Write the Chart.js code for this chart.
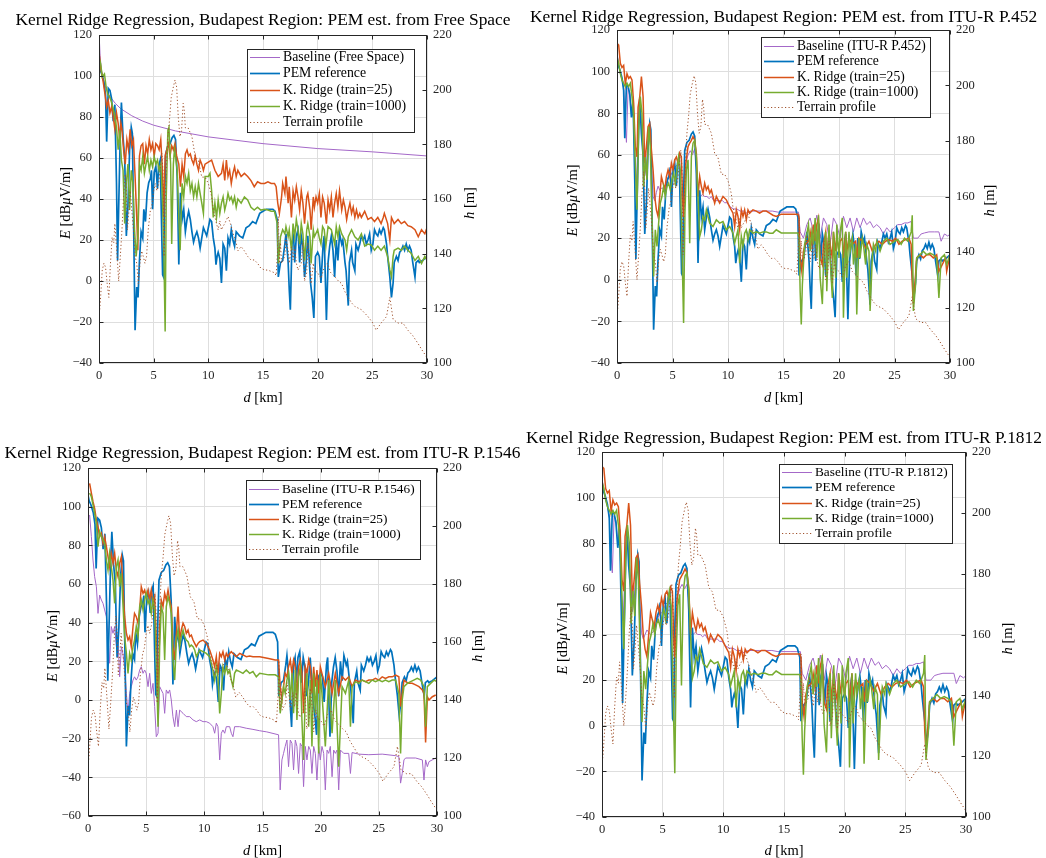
<!DOCTYPE html>
<html><head><meta charset="utf-8">
<script src="https://cdn.jsdelivr.net/npm/chart.js"></script>
<style>
html,body{margin:0;padding:0;background:#fff;width:1046px;height:858px;overflow:hidden;position:relative}
canvas{position:absolute}
</style></head><body>
<canvas id="c1"></canvas><canvas id="c2"></canvas><canvas id="c3"></canvas><canvas id="c4"></canvas>
<script>
// ---------- tick labels ----------
const dTicks = [0,5,10,15,20,25,30];
const eTicksA = [-40,-20,0,20,40,60,80,100,120];
const eTicksB = [-60,-40,-20,0,20,40,60,80,100,120];
const hTicks = [100,120,140,160,180,200,220];

// ---------- shared series: PEM reference [dBuV/m] ----------
const pemD = [0,0.1,0.25,0.45,0.6,0.7,0.85,1.0,1.15,1.3, 1.45,1.6,1.7,1.8,1.95,2.05,2.2,2.35,2.5,2.65,
 2.8,2.95,3.05,3.15,3.3,3.45,3.57,3.7,3.85,4.0, 4.1,4.25,4.4,4.55,4.7,4.8,4.9,5.05,5.2,5.35,
 5.45,5.6,5.75,5.82,5.9,6.0,6.1,6.3,6.5,6.7, 6.85,7.0,7.15,7.3,7.45,7.6,7.75,7.9,8.05,8.2,
 8.35,8.5,8.65,8.8,8.95,9.1,9.25,9.4,9.55,9.7, 9.85,10.0,10.15,10.3,10.45,10.6,10.7,10.8,10.9,11.05,
 11.2,11.35,11.5,11.65,11.8,11.95,12.1,12.25,12.4,12.55, 12.85,13.15,13.45,13.75,14.05,14.35,14.7,15.0,15.3,15.6,
 15.9,16.1,16.3,16.4,16.6,16.8,17.0,17.1,17.3,17.4, 17.5,17.65,17.8,17.9,18.05,18.2,18.35,18.5,18.65,18.8,
 18.95,19.1,19.35,19.5,19.65,19.8,20.0,20.15,20.3,20.5, 20.6,20.8,20.95,21.1,21.25,21.4,21.55,21.7,21.85,22.0,
 22.2,22.3,22.5,22.6,22.8,22.9,23.1,23.2,23.4,23.5, 23.7,23.85,24.0,24.15,24.3,24.45,24.6,24.75,24.9,25.05,
 25.2,25.35,25.5,25.65,25.8,26.0,26.1,26.3,26.4,26.6, 26.75,26.9,27.0,27.2,27.35,27.5,27.65,27.8,27.95,28.1,
 28.25,28.4,28.55,28.7,28.9,29.0,29.2,29.3,29.6,30];
const pemE = [106,103,101,97,91,68,94,93,89,78, 86,48,10,36,72,87,70,60,22,37,
 64,75,72,34,-24,-3,-8,10,24,21, 35,29,43,48,50,54,35,53,56,45,
 56,59,20,3,2,40,62,66,67,70, 71,69,51,8,43,30,35,24,30,34,
 30,24,19,22,24,21,16,21,26,24, 22,26,30,29,21,16,8,12,14,11,
 -1,18,16,5,21,18,25,20,17,24, 22,21,26,27,29,28,33,34,35,35,
 35,34,30,2,9,10,18,23,9,-4, -14,18,22,9,22,25,9,22,17,2,
 9,22,-1,-8,-18,12,14,12,-1,18, 22,-19,9,17,22,15,2,20,10,23,
 18,20,9,5,-12,9,15,9,5,18, 15,18,22,20,22,18,20,23,15,18,
 25,23,22,25,23,26,25,18,12,2, -8,-1,9,12,10,14,15,17,15,18,
 15,17,15,9,2,9,10,9,10,12];

// ---------- shared series: terrain profile h [m] ----------
const terrD = [0,0.1,0.3,0.45,0.6,0.75,0.9,1.05,1.2,1.35, 1.45,1.6,1.8,1.95,2.1,2.25,2.4,2.5,2.6,2.7,
 2.85,3.0,3.15,3.3,3.45,3.6,3.75,3.9,4.05,4.2, 4.35,4.5,4.7,4.85,5.0,5.15,5.3,5.45,5.6,5.75,
 5.85,5.95,6.05,6.15,6.3,6.45,6.6,6.8,6.95,7.1, 7.25,7.4,7.55,7.7,7.8,7.9,8.15,8.5,8.8,9.1,
 9.4,9.7,10.0,10.3,10.45,10.6,10.75,10.9,11.05,11.2, 11.35,11.5,11.8,12.1,12.25,12.4,12.55,12.7,13.0,13.3,
 13.6,13.9,14.2,14.5,14.8,15.15,15.45,15.75,16.05,16.2, 16.35,16.4,16.5,16.6,16.7,17.0,17.1,17.3,17.4,17.6,
 17.75,17.9,18.05,18.2,18.5,18.65,18.8,19.0,19.1,19.3, 19.4,19.6,19.7,20.0,20.3,20.6,20.9,21.2,21.55,21.9,
 22.2,22.5,22.8,23.1,23.4,24.0,24.6,25.05,25.35,25.8, 26.3,26.6,26.9,27.35,27.8,28.25,28.7,29.2,29.5,30];
const terrH = [117,121,134,136.5,135,129,124,136.5,146,144, 151,142.6,130,139,148.7,161,169,163,148.7,153.6,
 163,156,148.7,139,136.5,129,136.5,141,139,136.5, 139,148.7,156,158,163,165.7,163,165.7,170.6,176.7,
 170.6,139,158,170.6,182.8,189,197,201,203.5,201, 190,182.8,185,195,192.5,186,186,182.8,175.5,174,
 168,168,165.7,161,156,153.6,151,148.7,152,148.7, 150,151,153.6,150,147.5,146,144,141,142.6,141,
 139,137.7,137.7,136.5,134.7,134,134,133.5,133,132, 142.6,153.6,136.5,144,136.5,139,146,141,136.5,142.6,
 137.7,142.6,136.5,134,136.5,144,130,133,144,136.5, 129,136.5,134,133,131,135,136.5,133,131.6,130,
 129,126,124,122,120.7,119.5,117,114.6,112,114.6, 117,124,116,114.6,114.6,112,110,107,105,102];

// ---------- panel 1: Free Space ----------
const baseFsD = [0.05,0.1,0.2,0.3,0.5,0.75,1,1.5,2,3,4,5,7,10,15,20,25,30];
const baseFsE = [116,110,104,100.5,96,92.6,90,86.6,84,80.6,78,76,73.2,70.3,67,64.6,63,61];
const kr25FsD = [0,0.15,0.36,0.55,0.7,0.85,1.0,1.15,1.3,1.45, 1.6,1.75,1.9,2.0,2.1,2.25,2.4,2.55,2.7,2.85,
 3.0,3.15,3.3,3.45,3.55,3.7,3.85,4.0,4.15,4.3, 4.45,4.6,4.75,4.9,5.05,5.2,5.35,5.5,5.65,5.8,
 5.9,6.05,6.2,6.35,6.5,6.65,6.8,6.95,7.1,7.3, 7.45,7.6,7.75,7.9,8.05,8.2,8.35,8.5,8.65,8.8,
 8.95,9.1,9.25,9.4,9.55,9.7,10.0,10.3,10.6,10.9, 11.2,11.35,11.5,11.65,11.8,11.95,12.1,12.25,12.4,12.55,
 12.7,13.0,13.3,13.6,13.9,14.2,14.5,14.8,15.15,15.45, 15.75,16.05,16.2,16.35,16.5,16.7,16.8,17.0,17.1,17.3,
 17.4,17.6,17.75,17.9,18.05,18.2,18.35,18.5,18.65,18.8, 19.0,19.1,19.3,19.4,19.6,19.7,19.85,20.0,20.15,20.3,
 20.45,20.6,20.8,20.95,21.1,21.25,21.4,21.55,21.7,21.85, 22.0,22.2,22.35,22.5,22.65,22.8,22.95,23.1,23.25,23.4,
 23.55,23.7,23.85,24.0,24.3,24.6,24.9,25.2,25.5,25.8, 26.0,26.1,26.4,26.6,26.75,27.0,27.35,27.65,27.95,28.25,
 28.55,28.9,29.2,29.5,29.8,30];
const kr25FsE = [112,104,98,91,85,88,82,85,80,74, 82,77,69,77,74,64,57,69,64,74,
 66,69,51,31,15,61,66,67,57,66, 62,69,64,67,61,67,66,64,69,54,
 31,61,64,67,61,66,64,67,61,57, 46,57,51,62,64,61,62,59,57,61,
 57,54,59,57,54,57,58,59,54,51, 52.5,57,49,59,51,54,47.6,52.5,55.7,51,
 54,51,52.5,51,49,46,48.4,47.6,47.6,48.4, 47.6,47.6,46,38,33,41,47.6,42.7,51,38,
 46,31,44,39.5,46,41,34.6,44,38,28, 41,42.7,34.6,25,41,36,41,38,42.7,31,
 41,38,28,39.5,34.6,41,31,38,42.7,36, 44,34.6,39.5,36,30,34.6,38,33,36,31,
 34.6,31,33,31,34,30,31,29,31,28, 31,33,28,20,31,28,30,28,29,27,
 26.5,25,21.6,25,23,26];
const kr1000FsD = [0,0.15,0.3,0.5,0.65,0.8,0.95,1.1,1.25,1.4, 1.6,1.75,1.9,2.05,2.2,2.35,2.5,2.65,2.8,2.95,
 3.1,3.25,3.4,3.55,3.7,3.85,4.0,4.15,4.3,4.45, 4.6,4.75,4.9,5.05,5.2,5.35,5.5,5.65,5.8,5.95,
 6.05,6.15,6.3,6.4,6.55,6.65,6.8,6.9,7.0,7.15, 7.3,7.42,7.6,7.75,7.9,8.05,8.2,8.35,8.5,8.65,
 8.8,8.95,9.1,9.25,9.4,9.55,9.7,10.0,10.15,10.3, 10.45,10.6,10.75,10.9,11.05,11.2,11.35,11.5,11.65,11.8,
 11.95,12.1,12.25,12.4,12.55,12.7,13.0,13.3,13.6,13.9, 14.2,14.5,14.8,15.15,15.45,15.75,16.05,16.3,16.4,16.6,
 16.8,17.0,17.1,17.3,17.4,17.6,17.75,17.9,18.05,18.2, 18.35,18.5,18.65,18.8,19.0,19.1,19.3,19.4,19.6,19.7,
 20.0,20.15,20.3,20.45,20.6,20.75,20.95,21.25,21.55,21.7, 21.85,22.0,22.2,22.5,22.65,22.8,23.1,23.4,23.7,24.0,
 24.3,24.6,24.9,25.2,25.5,25.8,26.1,26.4,26.6,26.75, 26.9,27.0,27.35,27.65,27.95,28.25,28.55,28.9,29.2,29.5,
 29.8,30];
const kr1000FsE = [109,106,99.5,101,94.7,91,90,88,85,81.7, 75,64,73.6,59,54,28,47.6,57,34.6,54,
 47.6,25,12,21.6,57,54,60.6,52.5,57,60.6, 54,59,55.7,60.6,57,59,54,57,41,8.6,
 -24.6,41,73.6,75,57,18,57,64,60.6,54, 31,15,47.6,41,51,47.6,52.5,44,47.6,41,
 46,41,47.6,42.7,38,33,51,51,52.5,44, 31,38,31,39.5,33,38,41,34.6,38,42.7,
 39.5,41,38,41,36,40,38,41,39.5,36, 34.6,36,34.6,35,34.6,34,34,28,8.6,21.6,
 25,23,26.5,21.6,25,15,28,21.6,30,25, 18,28,23,10,25,28,21.6,8.6,25,21.6,
 25,21,18,26.5,25,17,26.5,25,18,26.5, 21.6,26.5,23,20,15,21.6,25,21.6,20,23,
 17,18,17.6,15,17,15,17,12,5.4,2, 12,15,16,15,17,15,13.5,10,12,8.6,
 12,10];

// ---------- panel 2: ITU-R P.452 ----------
const base452D = [0,0.15,0.3,0.45,0.6,0.75,0.85,1.0,1.15,1.3, 1.45,1.6,1.75,1.9,2.05,2.2,2.35,2.5,2.65,2.8,
 2.95,3.1,3.25,3.4,3.55,3.7,3.85,4.0,4.2,4.4, 4.6,4.8,5.0,5.2,5.4,5.6,5.75,5.9,6.05,6.2,
 6.4,6.6,6.8,7.0,7.15,7.3,7.5,7.7,7.9,8.1, 8.3,8.5,8.7,8.9,9.1,9.3,9.5,9.7,9.9,10.2,
 10.5,10.8,11.1,11.4,11.7,12.0,12.5,13,13.5,14, 14.5,15,15.5,16,16.35,16.5,16.8,17.1,17.4,17.7,
 18.0,18.3,18.6,18.9,19.2,19.5,19.8,20.1,20.4,20.7, 21.0,21.3,21.6,21.9,22.2,22.5,22.8,23.1,23.4,23.7,
 24.0,24.3,24.6,25.0,25.3,25.6,25.9,26.2,26.5,26.7, 27.1,27.4,27.7,28.1,28.6,29.0,29.2,29.5,29.8,30];
const base452E = [109,104,99,96,92,75,66,92,90,80, 88,60,45,70,86,75,65,50,55,68,
 74,55,40,38,42,45,43,44,44,46, 49,52,50,54,55,56,45,35,50,56,
 60,62,60,63,55,40,40,41,40,40, 39,40,38,38,38,38,38,37,37,35,
 34,34,33,33,32,33,33,33,33,33, 32.5,32.5,32.5,32.5,32.5,23,20,26.5,29.7,23,
 31,20,29.7,26.5,17,29.7,26.5,20,30.5,25, 29.7,23,29.7,25,29.7,26.5,28,25,26.5,25,
 22,25,23,25,26.5,26.5,27.3,27.3,28,20, 20,22,22.5,23,23,23,18.5,22,21,22];
const kr25P452D = [0,0.15,0.3,0.45,0.6,0.75,0.9,1.05,1.2,1.35, 1.5,1.65,1.8,1.9,2.05,2.2,2.35,2.5,2.65,2.8,
 2.95,3.1,3.25,3.4,3.55,3.7,3.85,4.0,4.15,4.3, 4.45,4.6,4.75,4.9,5.05,5.2,5.35,5.5,5.65,5.8,
 5.9,6.0,6.2,6.4,6.55,6.7,6.85,7.0,7.15,7.3, 7.45,7.6,7.75,7.9,8.05,8.2,8.35,8.5,8.65,8.8,
 8.95,9.25,9.55,9.85,10.15,10.45,10.6,10.75,10.9,11.05, 11.2,11.35,11.5,11.65,11.8,11.95,12.25,12.55,12.85,13.15,
 13.45,13.75,14.05,14.35,14.8,15.3,15.8,16.3,16.4,16.5, 16.65,16.8,16.95,17.25,17.4,17.55,17.7,17.85,18.0,18.15,
 18.3,18.5,18.6,18.8,18.9,19.1,19.2,19.4,19.5,19.7, 19.8,20.0,20.1,20.3,20.4,20.6,20.7,20.9,21.2,21.5,
 21.6,21.8,22.1,22.4,22.7,23.0,23.3,23.6,23.9,24.2, 24.5,24.8,25.1,25.4,25.7,26.0,26.3,26.5,26.6,26.7,
 26.9,27.0,27.3,27.6,27.9,28.2,28.5,28.8,29.0,29.3, 29.6,29.7,30];
const kr25P452E = [113.6,112.8,104,102,103,94,99,96.8,97.6,96, 84.8,64,59,83,88,97.6,88,56,64,73.6,
 75,62.4,52.8,40,33.6,30.4,40,49.6,46.4,43.2, 49.6,52.8,49.6,56,52.8,57.6,59,56,60.8,59,
 40,30,56,64,65.6,67,68.8,67,60.8,40, 49.6,44.8,41.6,46.4,43.2,44.8,41.6,43.2,40,36.8,
 40,36.8,40,38.4,35,32,25.6,33.6,30.4,24, 33.6,30.4,33.6,28.8,33.6,32,33.6,33,32,33,
 33,32,31,30.4,31.5,31.5,31.5,31.5,29.7,10.5, 4,13.7,17,18.5,23,17,26.5,18.5,26.5,29.7,
 10.5,7.3,17,23,10.5,23,17,10.5,23,13.7, 20,13.7,18.5,20,10.5,23,13.7,20,17,18.5,
 10.5,20,18.5,15.3,18.5,13.7,17,18.5,17,18.5, 19.3,18.5,20,17,18.5,19.3,20,17,-2,-11.7,
 2.6,10.5,12,10.5,12,12,10.5,12,4,7.3, 10.5,4,12];
const kr1000P452D = [0,0.15,0.3,0.45,0.6,0.75,0.9,1.05,1.2,1.35, 1.5,1.65,1.8,1.95,2.1,2.25,2.4,2.55,2.7,2.85,
 3.0,3.15,3.3,3.45,3.6,3.75,3.9,4.05,4.2,4.35, 4.5,4.65,4.8,4.95,5.1,5.25,5.4,5.55,5.7,5.82,
 6.0,6.12,6.25,6.4,6.55,6.7,6.85,7.0,7.15,7.3, 7.45,7.6,7.75,7.9,8.05,8.2,8.35,8.65,8.95,9.25,
 9.55,9.85,10.15,10.45,10.6,10.75,10.9,11.05,11.2,11.35, 11.5,11.65,11.8,11.95,12.25,12.55,12.85,13.15,13.45,13.75,
 14.05,14.35,14.8,15.3,15.8,16.3,16.4,16.5,16.6,16.7, 16.9,17.1,17.25,17.4,17.55,17.7,17.85,18.0,18.15,18.3,
 18.5,18.6,18.8,18.9,19.1,19.2,19.4,19.5,19.7,19.8, 20.0,20.1,20.3,20.4,20.6,20.7,20.9,21.0,21.2,21.3,
 21.5,21.6,21.8,21.9,22.1,22.2,22.4,22.5,22.7,22.8, 23.0,23.1,23.3,23.4,23.7,24.0,24.3,24.6,25.0,25.3,
 25.6,25.9,26.2,26.5,26.6,26.7,26.9,27.0,27.3,27.6, 27.9,28.2,28.5,28.8,29.0,29.2,29.5,29.7,30];
const kr1000P452E = [107,104,99,96,94.4,92.8,94.4,92.8,94.4,88, 78.4,56,33.6,72,88,80,44.8,59,48,73.6,
 64,30.4,1.6,24,16,27.2,36.8,40,44.8,40, 44.8,46.4,43.2,48,51.2,46.4,52.8,59,52.8,24,
 -20.8,32,52.8,57.6,17.6,59,65.6,67,59,40, 20.8,24,30.4,28.8,33.6,30.4,27.2,25.6,28.8,27.2,
 28,24,25.6,22.4,17.6,20.8,24,8,20.8,16, 22.4,24,19.2,24,22.4,23,22.4,23,23,22.4,
 22.4,24,22.5,22.5,22.5,22.5,20,-5.5,-21.5,-2.3, 17,22,26.5,13.7,23,17,29.7,10.5,31,1,
 -11.7,7.3,23,-5.5,26.5,10.5,-8.7,23,1,26.5, 10.5,23,29.7,-18.3,23,1,23,13.7,20,7.3,
 17,-16.7,20,10.5,20,17,7.3,17,13.7,-15, 10.5,17,13.7,18.5,13.7,18.5,20,17,18.5,19.3,
 17,20,18.5,23,31,-15,-2.3,10.5,12,13.7, 12,12.8,12,10.5,-8.7,10.5,12,7.3,12];

// ---------- panel 3: ITU-R P.1546 ----------
const base1546D = [0.14,0.29,0.43,0.57,0.72,0.86,1.0,1.15,1.29,1.43, 1.58,1.72,1.86,2.0,2.15,2.29,2.44,2.58,2.72,2.87,
 3.0,3.15,3.3,3.44,3.58,3.72,3.87,4.0,4.15,4.3, 4.44,4.58,4.73,4.87,5.0,5.16,5.3,5.44,5.59,5.73,
 5.87,6.02,6.16,6.3,6.45,6.59,6.73,6.88,7.02,7.16, 7.3,7.45,7.6,7.74,7.88,8.17,8.45,8.74,9.03,9.31,
 9.6,9.89,10.17,10.46,10.74,10.89,11.03,11.17,11.32,11.46, 11.6,11.75,11.89,12.18,12.32,12.46,12.6,13.04,13.6,14.18,
 14.76,15.37,16.38,16.52,16.67,16.81,16.95,17.1,17.24,17.39, 17.53,17.67,17.82,17.96,18.1,18.25,18.39,18.53,18.68,18.82,
 18.97,19.11,19.25,19.4,19.54,19.68,19.83,19.97,20.11,20.26, 20.4,20.55,20.69,20.83,20.98,21.12,21.26,21.41,21.55,21.7,
 21.98,22.41,22.56,22.7,23.28,24.14,25.29,26.44,26.72,26.87, 27.01,27.16,27.3,28.16,28.74,28.88,29.02,29.17,29.31,29.89,
 30];
const base1546E = [95.7,84.5,72.4,63.8,58.6,44.8,54.3,51.7,50,46.6, 43.1,32.8,19,38,34.5,38,27.6,31,12,27.6,
 24,17,3.4,-6.9,3.4,6.9,10.3,12,10.3,12, 15.5,17.2,13.8,15.5,13.8,6.9,13.8,3.4,8.6,-3.4,
 -19,-17.2,6.9,5.2,3.4,-6.9,5.2,3.4,5.2,0, -8.6,-13.8,-5.2,-13.8,-5.2,-6.9,-8.6,-8.6,-10.3,-11.2,
 -10.3,-11.2,-11.2,-12,-13.8,-17.2,-12,-13.8,-31,-17.2, -15.5,-17.2,-13.8,-13.8,-17.2,-19,-13.8,-13.8,-14.6,-15.2,
 -15.9,-16.5,-18,-46.5,-31,-27.6,-24,-20.7,-34.5,-20.7, -22.4,-36.2,-20.7,-24,-38,-22.4,-24,-44.8,-24,-31,
 -24,-25.9,-38,-24,-27.6,-41.4,-24,-31,-24,-27.6, -46.5,-25.9,-27.6,-24,-39.7,-25.9,-27.6,-25.9,-46.5,-25.9,
 -27.6,-27.6,-38,-27.2,-28,-28.3,-28,-28.8,-29.3,-43, -38,-31,-30,-30,-31,-41.4,-31,-34.5,-31.9,-30,
 -30.7];
const kr25P1546D = [0.14,0.29,0.43,0.57,0.72,0.86,1.0,1.15,1.29,1.43, 1.58,1.72,1.86,2.0,2.15,2.29,2.44,2.58,2.72,2.87,
 3.0,3.15,3.3,3.44,3.58,3.72,3.87,4.0,4.15,4.3, 4.44,4.58,4.73,4.87,5.0,5.16,5.3,5.44,5.59,5.73,
 5.87,6.02,6.16,6.3,6.45,6.59,6.73,6.88,7.02,7.16, 7.3,7.45,7.6,7.74,7.88,8.02,8.17,8.31,8.45,8.6,
 8.74,8.88,9.03,9.17,9.31,9.46,9.6,9.89,10.17,10.46, 10.74,10.89,11.03,11.17,11.32,11.46,11.6,11.75,11.89,12.03,
 12.18,12.32,12.46,12.75,13.04,13.32,13.61,13.9,14.18,14.76, 15.52,16.09,16.38,16.52,16.67,16.81,16.95,17.1,17.24,17.39,
 17.53,17.67,17.82,17.96,18.1,18.25,18.39,18.53,18.68,18.82, 18.97,19.11,19.25,19.4,19.54,19.68,19.83,19.97,20.11,20.4,
 20.69,20.98,21.26,21.55,21.84,22.13,22.41,22.7,22.99,23.28, 23.56,23.85,24.14,24.43,24.71,25.0,25.29,25.57,25.86,26.15,
 26.44,26.72,26.87,27.01,27.16,27.3,27.59,27.87,28.16,28.45, 28.74,28.88,29.02,29.17,29.31,29.6,29.89];
const kr25P1546E = [112,107,102.6,99.1,93,89.6,84.5,86.2,81,84.5, 79.3,74.1,69,75.9,70.7,75.9,67.2,63.8,70.7,74.1,
 58.6,43.1,34.5,31,32.8,27.6,38,44.8,43.1,39.7, 46.6,58.6,55.2,56.9,53.4,56.9,51.7,56.9,50,53.4,
 31,-3.4,38,51.7,48.3,55.2,51.7,56.9,51.7,48.3, 27.6,20.7,34.5,48.3,31,36.2,39.7,38,34.5,36.2,
 32.8,33.6,31,29.3,27.6,29.3,30.2,31,29.3,25.9, 20.7,17.2,22.4,13.8,24.1,22.4,25,20.7,24.1,22.4,
 24.1,25,24.1,22.4,24.1,23.3,22.4,22.8,22.4,22.4, 21.5,20.7,20.7,6.9,0,6.9,13.8,12,17.2,20.7,
 13.8,20.7,17.2,0,17.2,20.7,13.8,-6.9,17.2,13.8, 20.7,17.2,3.4,17.2,6.9,15.5,3.4,17.2,13.8,6.9,
 13.8,3.4,13.8,3.4,12,10.3,12,6.9,10.3,9.5, 10.3,9.5,10.3,10.3,11.2,10.3,12,11.2,12,12,
 12.9,12,-3.4,3.4,10.3,9.5,8.6,8.6,7.8,6.9, 5.2,3.4,-22,1.7,0,1.7,2.6];
const kr1000P1546D = [0.14,0.29,0.43,0.57,0.72,0.86,1.0,1.15,1.29,1.43, 1.58,1.72,1.86,2.0,2.15,2.29,2.44,2.58,2.72,2.87,
 3.0,3.15,3.3,3.44,3.58,3.72,3.87,4.0,4.15,4.3, 4.44,4.58,4.73,4.87,5.0,5.16,5.3,5.44,5.59,5.73,
 5.87,6.02,6.16,6.3,6.45,6.59,6.73,6.88,7.02,7.16, 7.3,7.45,7.6,7.74,7.88,8.02,8.17,8.31,8.45,8.6,
 8.74,8.88,9.03,9.17,9.31,9.46,9.6,9.89,10.17,10.46, 10.74,10.89,11.03,11.17,11.32,11.46,11.6,11.75,11.89,12.03,
 12.18,12.32,12.46,12.6,12.75,13.04,13.32,13.61,13.9,14.18, 14.47,14.76,15.52,16.09,16.38,16.52,16.67,16.81,16.95,17.1,
 17.24,17.39,17.53,17.67,17.82,17.96,18.1,18.25,18.39,18.53, 18.68,18.82,18.97,19.11,19.25,19.4,19.54,19.68,19.83,19.97,
 20.11,20.4,20.69,20.98,21.26,21.55,21.84,22.13,22.41,22.56, 22.7,22.99,23.28,23.56,23.85,24.14,24.43,24.71,25.0,25.29,
 25.57,25.86,26.15,26.44,26.72,26.87,27.01,27.16,27.45,27.73, 28.0,28.3,28.6,28.88,29.02,29.17,29.45,29.75,30];
const kr1000P1546E = [107,105.2,100.9,96.6,91.4,79.3,87.1,84.5,82.8,81, 72.4,67.2,75.9,69,62,50,69,72.4,58.6,65.5,
 50,32.8,24.1,13.8,24.1,20.7,27.6,31,38,32.8, 48.3,51.7,46.6,51.7,55.2,50,51.7,44.8,51.7,46.6,
 20.7,-13.8,27.6,48.3,44.8,20.7,48.3,53.4,50,44.8, 20.7,10.3,31,36.2,27.6,32.8,36.2,32.8,31,30.2,
 27.6,28.4,27.6,25.9,22.4,24.1,25.9,25,24.1,22.4, 15.5,10.3,17.2,12,-6.9,3.4,17.2,13.8,17.2,13.8,
 15.5,10.3,6.9,13.8,15.5,14.7,13.8,15.5,13.8,14.7, 12,13.8,13,13,12,-6.9,0,6.9,3.4,10.3,
 13.8,0,13.8,-6.9,15.5,-10.3,12,17.2,-10.3,-31, 3.4,13.8,-13.8,10.3,-24,13.8,-6.9,10.3,-27.6,13.8,
 3.4,-24,10.3,-17.2,10.3,-34.5,6.9,3.4,10.3,-13.8, 6.9,9.5,8.6,10.3,9.5,8.6,10.3,9.5,10.3,9.5,
 10.3,9.5,10.3,10.3,3.4,-27.6,0,6.9,8.6,9.5, 10.3,11.2,10.3,6.9,-13.8,6.9,8.6,10.3,9.5];

// ---------- panel 4: ITU-R P.1812 ----------
const base1812D = [0,0.15,0.3,0.45,0.6,0.75,0.85,1.0,1.15,1.3, 1.45,1.6,1.75,1.9,2.05,2.2,2.35,2.5,2.65,2.8,
 2.95,3.1,3.25,3.4,3.55,3.7,3.85,4.0,4.2,4.4, 4.6,4.8,5.0,5.2,5.4,5.6,5.75,5.9,6.05,6.2,
 6.4,6.6,6.8,7.0,7.15,7.3,7.5,7.7,7.9,8.1, 8.3,8.5,8.7,8.9,9.1,9.3,9.5,9.7,9.9,10.2,
 10.5,10.8,11.1,11.4,11.7,12.0,12.5,13,13.5,14, 14.5,15,15.5,16,16.35,16.5,16.8,17.1,17.4,17.7,
 18.0,18.3,18.6,18.9,19.2,19.5,19.8,20.1,20.4,20.7, 21.0,21.3,21.6,21.9,22.2,22.5,22.8,23.1,23.4,23.7,
 24.0,24.3,24.6,25.0,25.3,25.6,25.9,26.2,26.5,26.7, 27.1,27.4,27.7,28.1,28.6,29.0,29.2,29.5,29.8,30];
const base1812E = [108,104,99,96,92,75,67,92,90,80, 88,60,46,70,86,75,65,50,55,68,
 74,55,41,38,40,42,41,40,41,43, 47,50,49,53,54,56,45,35,50,56,
 60,62,60,62,55,40,40,41,40,40, 39,40,38,38,38,38,38,37,37,35,
 34,34,33,33,32,33,33,33,33,33, 32.5,32.5,32.5,32.5,32.5,23,20,26.5,29.7,23,
 31,20,29.7,26.5,17,29.7,26.5,20,30.5,25, 29.7,23,29.7,25,29.7,26.5,28,25,26.5,25,
 22,25,23,25,26.5,26.5,27.3,27.3,28,20, 20,22,22.5,23,23,23,18.5,22,21,22];
const kr25P1812D = [0,0.15,0.3,0.45,0.6,0.75,0.9,1.05,1.2,1.35, 1.5,1.65,1.8,1.9,2.05,2.2,2.35,2.5,2.65,2.8,
 2.95,3.1,3.25,3.4,3.55,3.7,3.85,4.0,4.15,4.3, 4.45,4.6,4.75,4.9,5.05,5.2,5.35,5.5,5.65,5.8,
 5.9,6.0,6.2,6.4,6.55,6.7,6.85,7.0,7.15,7.3, 7.45,7.6,7.75,7.9,8.05,8.2,8.35,8.5,8.65,8.8,
 8.95,9.25,9.55,9.85,10.15,10.45,10.6,10.75,10.9,11.05, 11.2,11.35,11.5,11.65,11.8,11.95,12.25,12.55,12.85,13.15,
 13.45,13.75,14.05,14.35,14.8,15.3,15.8,16.3,16.4,16.5, 16.65,16.8,16.95,17.25,17.4,17.55,17.7,17.85,18.0,18.15,
 18.3,18.5,18.6,18.8,18.9,19.1,19.2,19.4,19.5,19.7, 19.8,20.0,20.1,20.3,20.4,20.6,20.7,20.9,21.2,21.5,
 21.6,21.8,22.1,22.4,22.7,23.0,23.3,23.6,23.9,24.2, 24.5,24.8,25.1,25.4,25.7,26.0,26.3,26.5,26.6,26.7,
 26.9,27.0,27.3,27.6,27.9,28.2,28.5,28.8,29.0,29.3, 29.6,29.7,30];
const kr25P1812E = [113.6,112.8,104,102,103,94,99,96.8,97.6,96, 84.8,64,59,83,88,97.6,88,56,64,73.6,
 75,62.4,52.8,40,33.6,30.4,40,49.6,46.4,43.2, 49.6,52.8,49.6,56,52.8,57.6,59,56,60.8,59,
 40,30,56,64,65.6,67,68.8,67,60.8,40, 49.6,44.8,41.6,46.4,43.2,44.8,41.6,43.2,40,36.8,
 40,36.8,40,38.4,35,32,25.6,33.6,30.4,24, 33.6,30.4,33.6,28.8,33.6,32,33.6,33,32,33,
 33,32,31,30.4,31.5,31.5,31.5,31.5,29.7,10.5, 4,13.7,17,18.5,23,17,26.5,18.5,26.5,29.7,
 10.5,7.3,17,23,10.5,23,17,10.5,23,13.7, 20,13.7,18.5,20,10.5,23,13.7,20,17,18.5,
 10.5,20,18.5,15.3,18.5,13.7,17,18.5,17,18.5, 19.3,18.5,20,17,18.5,19.3,20,17,-2,-11.7,
 2.6,10.5,12,10.5,12,12,10.5,12,4,7.3, 10.5,4,12];
const kr1000P1812D = [0,0.15,0.3,0.45,0.6,0.75,0.9,1.05,1.2,1.35, 1.5,1.65,1.8,1.95,2.1,2.25,2.4,2.55,2.7,2.85,
 3.0,3.15,3.3,3.45,3.6,3.75,3.9,4.05,4.2,4.35, 4.5,4.65,4.8,4.95,5.1,5.25,5.4,5.55,5.7,5.82,
 6.0,6.12,6.25,6.4,6.55,6.7,6.85,7.0,7.15,7.3, 7.45,7.6,7.75,7.9,8.05,8.2,8.35,8.65,8.95,9.25,
 9.55,9.85,10.15,10.45,10.6,10.75,10.9,11.05,11.2,11.35, 11.5,11.65,11.8,11.95,12.25,12.55,12.85,13.15,13.45,13.75,
 14.05,14.35,14.8,15.3,15.8,16.3,16.4,16.5,16.6,16.7, 16.9,17.1,17.25,17.4,17.55,17.7,17.85,18.0,18.15,18.3,
 18.5,18.6,18.8,18.9,19.1,19.2,19.4,19.5,19.7,19.8, 20.0,20.1,20.3,20.4,20.6,20.7,20.9,21.0,21.2,21.3,
 21.5,21.6,21.8,21.9,22.1,22.2,22.4,22.5,22.7,22.8, 23.0,23.1,23.3,23.4,23.7,24.0,24.3,24.6,25.0,25.3,
 25.6,25.9,26.2,26.5,26.6,26.7,26.9,27.0,27.3,27.6, 27.9,28.2,28.5,28.8,29.0,29.2,29.5,29.7,30];
const kr1000P1812E = [107,104,99,96,94.4,92.8,94.4,92.8,94.4,88, 78.4,56,33.6,72,88,80,44.8,59,48,73.6,
 64,30.4,1.6,24,16,27.2,36.8,40,44.8,40, 44.8,46.4,43.2,48,51.2,46.4,52.8,59,52.8,24,
 -20.8,32,52.8,57.6,17.6,59,65.6,67,59,40, 20.8,24,30.4,28.8,33.6,30.4,27.2,25.6,28.8,27.2,
 28,24,25.6,22.4,17.6,20.8,24,8,20.8,16, 22.4,24,19.2,24,22.4,23,22.4,23,23,22.4,
 22.4,24,22.5,22.5,22.5,22.5,20,-5.5,-21.5,-2.3, 17,22,26.5,13.7,23,17,29.7,10.5,31,1,
 -11.7,7.3,23,-5.5,26.5,10.5,-8.7,23,1,26.5, 10.5,23,29.7,-18.3,23,1,23,13.7,20,7.3,
 17,-16.7,20,10.5,20,17,7.3,17,13.7,-15, 10.5,17,13.7,18.5,13.7,18.5,20,17,18.5,19.3,
 17,20,18.5,23,31,-15,-2.3,10.5,12,13.7, 12,12.8,12,10.5,-8.7,10.5,12,7.3,12];

// ---------- rendering ----------
const FONT = "'Liberation Serif', 'Times New Roman', serif";
const COL = {base:'#A468C8', pem:'#0072BD', k25:'#D95319', k1000:'#77AC30', terr:'#A0522D'};
const GRID = '#dedede', AXC = '#262626';
const TITLE_SIZE = 17.4, TITLE_LH = 1.25;
Chart.defaults.font.family = FONT;
Chart.defaults.color = AXC;

function pts(d, e){ return d.map((x,i)=>({x:x, y:e[i]})); }
function fmt(v){ return String(v).replace('-', '\u2212'); }

const framePlugin = {
  id:'frame',
  afterDatasetsDraw(chart){
    const ctx = chart.ctx, a = chart.chartArea, sx = chart.scales.x, sy = chart.scales.y, sh = chart.scales.y1;
    const L = Math.round(a.left)+0.5, R = Math.round(a.right)-0.5, T = Math.round(a.top)+0.5, B = Math.round(a.bottom)-0.5;
    ctx.save();
    ctx.strokeStyle = AXC; ctx.lineWidth = 1;
    ctx.strokeRect(L, T, R-L, B-T);
    const tl = 4;
    ctx.beginPath();
    sx.ticks.forEach(t=>{ const x = Math.round(sx.getPixelForValue(t.value))+0.5; ctx.moveTo(x,B); ctx.lineTo(x,B-tl); ctx.moveTo(x,T); ctx.lineTo(x,T+tl); });
    sy.ticks.forEach(t=>{ const y = Math.round(sy.getPixelForValue(t.value))+0.5; ctx.moveTo(L,y); ctx.lineTo(L+tl,y); });
    sh.ticks.forEach(t=>{ const y = Math.round(sh.getPixelForValue(t.value))+0.5; ctx.moveTo(R,y); ctx.lineTo(R-tl,y); });
    ctx.stroke();
    ctx.restore();
  }
};

function drawMixed(ctx, text, cx, cy, rot, size){
  // first character (variable) and mu in italic
  const parts = [];
  for (let i=0;i<text.length;i++){
    const ch = text[i];
    const it = (i===0 || ch==='\u03BC');
    const f = (it?'italic ':'') + size + 'px ' + FONT;
    if (parts.length && parts[parts.length-1].f===f) parts[parts.length-1].t += ch; else parts.push({t:ch, f:f});
  }
  ctx.save(); ctx.translate(cx, cy); ctx.rotate(rot);
  let total = 0;
  parts.forEach(p=>{ ctx.font = p.f; p.w = ctx.measureText(p.t).width; total += p.w; });
  let x = -total/2;
  ctx.textBaseline = 'middle'; ctx.textAlign = 'left'; ctx.fillStyle = '#000';
  parts.forEach(p=>{ ctx.font = p.f; ctx.fillText(p.t, x, 0); x += p.w; });
  ctx.restore();
}

const axisTitlePlugin = {
  id:'axisTitles',
  afterDraw(chart, args, o){
    const ctx = chart.ctx, a = chart.chartArea, sc = chart.options.scales;
    const cy = (a.top + a.bottom)/2 + 4, cx = (a.left + a.right)/2;
    drawMixed(ctx, sc.x.title.text, cx, a.bottom + o.xOff, 0, 14.5);
    drawMixed(ctx, sc.y.title.text, a.left - o.yOff, cy, -Math.PI/2, 14.5);
    drawMixed(ctx, sc.y1.title.text, a.right + o.hOff, cy, -Math.PI/2, 14.5);
  }
};

const legendPlugin = {
  id:'legendBox',
  afterDraw(chart, args, o){
    const ctx = chart.ctx, a = chart.chartArea;
    const x0 = Math.round(a.left + o.x), y0 = Math.round(a.top + o.y);
    ctx.save();
    ctx.font = o.fs + 'px ' + FONT; ctx.textBaseline = 'middle'; ctx.textAlign = 'left';
    let maxW = 0;
    chart.data.datasets.forEach(ds=>{ maxW = Math.max(maxW, ctx.measureText(ds.label).width); });
    const w = Math.max(o.w, Math.ceil(36 + maxW + 4));
    ctx.fillStyle = '#fff'; ctx.fillRect(x0, y0, w, o.h);
    ctx.strokeStyle = AXC; ctx.lineWidth = 1; ctx.strokeRect(x0+0.5, y0+0.5, w, o.h);
    chart.data.datasets.forEach((ds,i)=>{
      const y = Math.round(y0 + o.row0 + i*o.pitch) + 0.5;
      ctx.save();
      ctx.strokeStyle = ds.borderColor; ctx.lineWidth = ds.borderWidth; ctx.setLineDash(ds.borderDash || []);
      ctx.beginPath(); ctx.moveTo(x0+3, y); ctx.lineTo(x0+33, y); ctx.stroke();
      ctx.restore();
      ctx.fillStyle = '#000';
      ctx.fillText(ds.label, x0+36, y);
    });
    ctx.restore();
  }
};

const panels = [
 {id:'c1', left:4, top:0, plotW:328, plotH:328, L:95, titleH:35, tcy:20.5, xAxisH:50,
  title:'Kernel Ridge Regression, Budapest Region: PEM est. from Free Space',
  baseLabel:'Baseline (Free Space)', base:[baseFsD,baseFsE], k25:[kr25FsD,kr25FsE], k1000:[kr1000FsD,kr1000FsE],
  eTicks:eTicksA, leg:{x:148, y:14, w:167, h:83, row0:8.3, pitch:16.1, fs:13.8}, lab:{xOff:35, yOff:33, hOff:43}},
 {id:'c2', left:527, top:0, plotW:333, plotH:333, L:90, titleH:30, tcy:17, xAxisH:50,
  title:'Kernel Ridge Regression, Budapest Region: PEM est. from ITU-R P.452',
  baseLabel:'Baseline (ITU-R P.452)', base:[base452D,base452E], k25:[kr25P452D,kr25P452E], k1000:[kr1000P452D,kr1000P452E],
  eTicks:eTicksA, leg:{x:144, y:7, w:169, h:80, row0:9, pitch:15.3, fs:13.6}, lab:{xOff:35, yOff:44, hOff:40}},
 {id:'c3', left:3, top:430, plotW:349, plotH:348, L:85, titleH:38, tcy:23, xAxisH:42,
  title:'Kernel Ridge Regression, Budapest Region: PEM est. from ITU-R P.1546',
  baseLabel:'Baseline (ITU-R P.1546)', base:[base1546D,base1546E], k25:[kr25P1546D,kr25P1546E], k1000:[kr1000P1546D,kr1000P1546E],
  eTicks:eTicksB, leg:{x:158, y:12, w:174, h:79, row0:9, pitch:15.1, fs:13.3}, lab:{xOff:35, yOff:35, hOff:41}},
 {id:'c4', left:524, top:420, plotW:364, plotH:365, L:78, titleH:32, tcy:18, xAxisH:41,
  title:'Kernel Ridge Regression, Budapest Region: PEM est. from ITU-R P.1812',
  baseLabel:'Baseline (ITU-R P.1812)', base:[base1812D,base1812E], k25:[kr25P1812D,kr25P1812E], k1000:[kr1000P1812D,kr1000P1812E],
  eTicks:eTicksA, leg:{x:177, y:12, w:172, h:79, row0:8.3, pitch:15.1, fs:13.3}, lab:{xOff:34, yOff:39, hOff:42}}
];

function makeChart(p){
  const cv = document.getElementById(p.id);
  const W = p.plotW + 2*p.L, H = p.titleH + p.plotH + p.xAxisH;
  cv.width = W; cv.height = H;
  cv.style.left = p.left+'px'; cv.style.top = p.top+'px';
  cv.style.width = W+'px'; cv.style.height = H+'px';
  const ds = [
    {label:p.baseLabel, data:pts(p.base[0],p.base[1]), borderColor:COL.base, borderWidth:1, order:5, yAxisID:'y'},
    {label:'PEM reference', data:pts(pemD,pemE), borderColor:COL.pem, borderWidth:1.7, order:4, yAxisID:'y'},
    {label:'K. Ridge (train=25)', data:pts(p.k25[0],p.k25[1]), borderColor:COL.k25, borderWidth:1.5, order:3, yAxisID:'y'},
    {label:'K. Ridge (train=1000)', data:pts(p.k1000[0],p.k1000[1]), borderColor:COL.k1000, borderWidth:1.5, order:2, yAxisID:'y'},
    {label:'Terrain profile', data:pts(terrD,terrH), borderColor:COL.terr, borderWidth:1, borderDash:[1.2,2.3], order:1, yAxisID:'y1'}
  ];
  ds.forEach(d=>{ d.pointRadius=0; d.pointHoverRadius=0; d.fill=false; d.tension=0; d.backgroundColor=d.borderColor; });
  const eT = p.eTicks;
  const lh = TITLE_SIZE * TITLE_LH;
  const tpt = p.tcy - lh/2;
  new Chart(cv, {
    type:'line',
    data:{datasets:ds},
    plugins:[framePlugin, axisTitlePlugin, legendPlugin],
    options:{
      responsive:false, animation:false, devicePixelRatio:1, events:[],
      layout:{padding:0},
      plugins:{
        legend:{display:false}, tooltip:{enabled:false},
        title:{display:true, text:p.title, color:'#000', font:{size:TITLE_SIZE, weight:'normal', lineHeight:TITLE_LH},
               padding:{top:tpt, bottom:p.titleH - lh - tpt}},
        legendBox:p.leg, axisTitles:p.lab
      },
      scales:{
        x:{type:'linear', min:0, max:30,
           afterBuildTicks:s=>{ s.ticks = dTicks.map(v=>({value:v})); },
           afterFit:s=>{ s.height = p.xAxisH; },
           grid:{color:GRID, drawTicks:false, lineWidth:1}, border:{display:false},
           ticks:{padding:5, color:AXC, font:{size:12.5}, maxRotation:0, autoSkip:false, callback:v=>fmt(v)},
           title:{display:false, text:'d [km]'}},
        y:{type:'linear', position:'left', min:eT[0], max:eT[eT.length-1],
           afterBuildTicks:s=>{ s.ticks = eT.map(v=>({value:v})); },
           afterFit:s=>{ s.width = p.L; },
           grid:{color:GRID, drawTicks:false, lineWidth:1}, border:{display:false},
           ticks:{padding:7, color:AXC, font:{size:12.5}, autoSkip:false, callback:v=>fmt(v)},
           title:{display:false, text:'E [dB\u03BCV/m]'}},
        y1:{type:'linear', position:'right', min:hTicks[0], max:hTicks[hTicks.length-1],
           afterBuildTicks:s=>{ s.ticks = hTicks.map(v=>({value:v})); },
           afterFit:s=>{ s.width = p.L; },
           grid:{display:false, drawTicks:false}, border:{display:false},
           ticks:{padding:6, color:AXC, font:{size:12.5}, autoSkip:false, callback:v=>fmt(v)},
           title:{display:false, text:'h [m]'}}
      }
    }
  });
}
panels.forEach(makeChart);
</script>
</body></html>
